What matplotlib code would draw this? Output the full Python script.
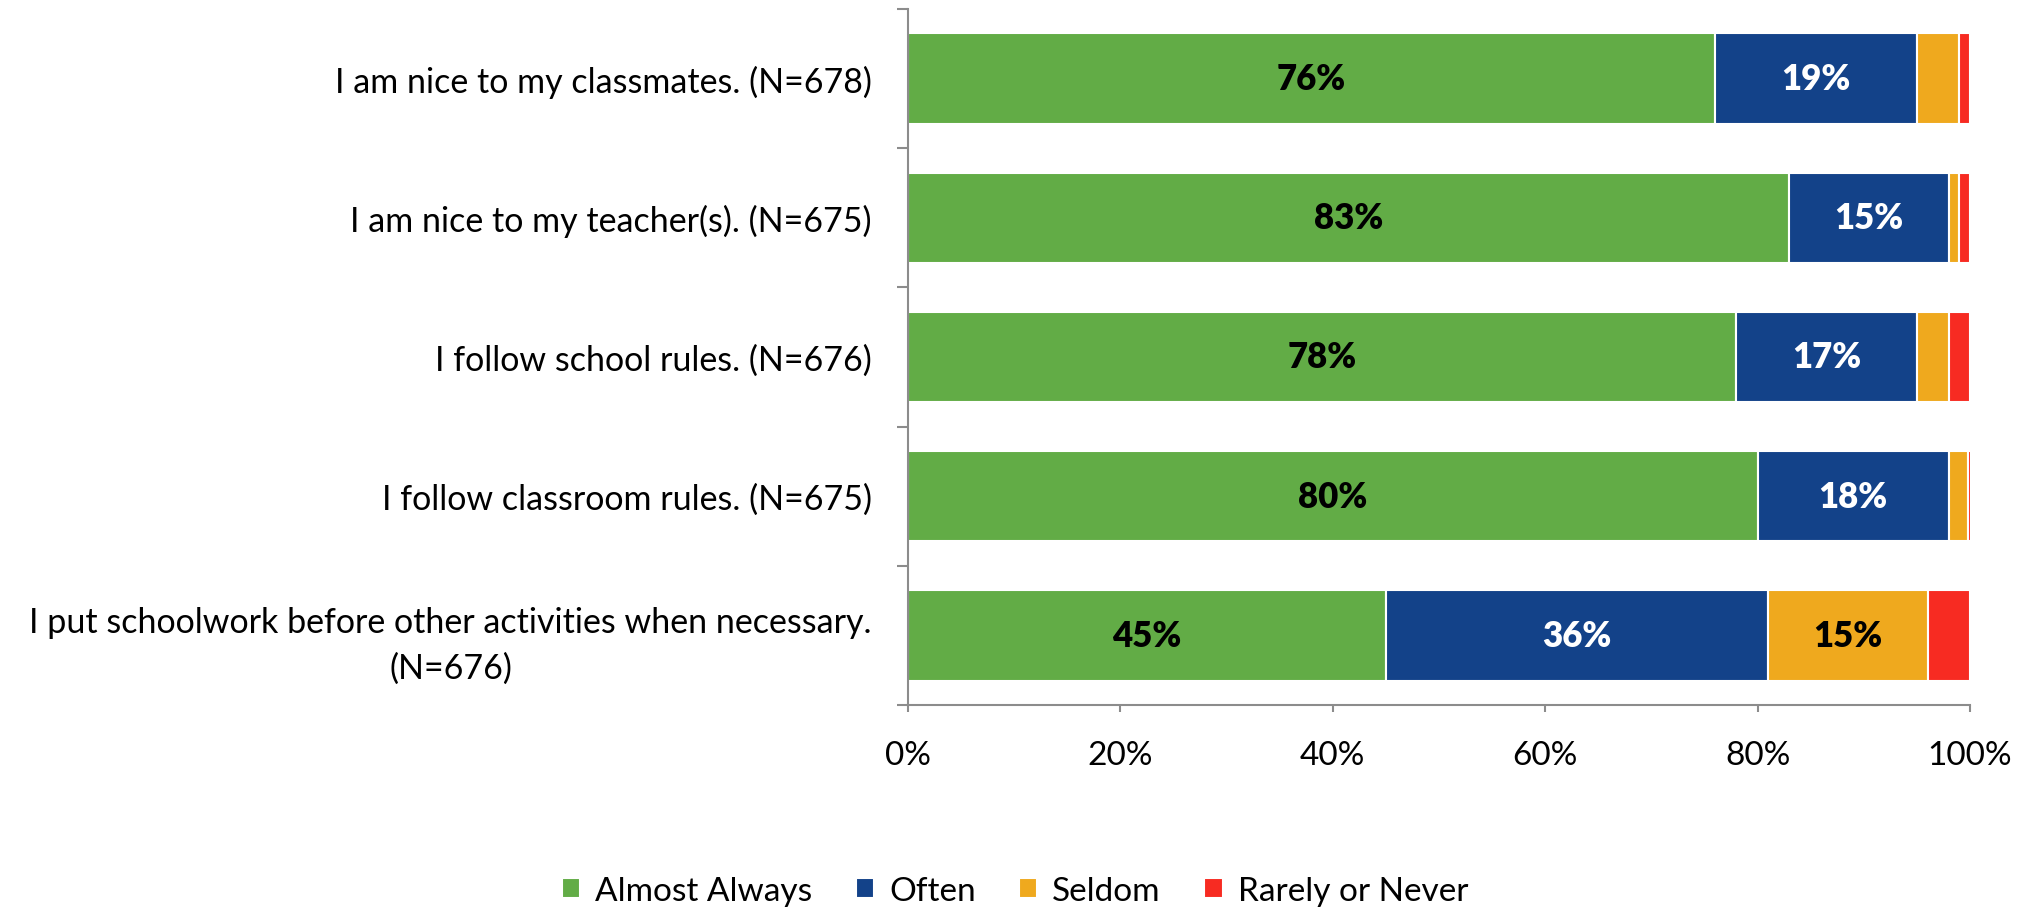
import matplotlib
matplotlib.use("Agg")
import matplotlib.pyplot as plt
import numpy as np
from matplotlib.ticker import FixedLocator, PercentFormatter

categories = [
    "I am nice to my classmates. (N=678)",
    "I am nice to my teacher(s). (N=675)",
    "I follow school rules. (N=676)",
    "I follow classroom rules. (N=675)",
    "I put schoolwork before other activities when necessary.\n(N=676)",
]
series_names = ["Almost Always", "Often", "Seldom", "Rarely or Never"]
almost_always = [76, 83, 78, 80, 45]
often = [19, 15, 17, 18, 36]
seldom = [4, 1, 3, 1.8, 15]
rarely = [1, 1, 2, 0.3, 4]
colors = ["#62AC46", "#134289", "#EFA91E", "#F72B22"]
label_colors = ["black", "white", "black", "white"]

plt.rcParams['font.family'] = ['Lato', 'DejaVu Sans']

fig = plt.figure(figsize=(20.30, 9.12), dpi=100)
ax = fig.add_axes([908/2030, (912-706)/912, 1062/2030, 696/912])

y = np.arange(len(categories))
left = np.zeros(len(categories))
all_series = [almost_always, often, seldom, rarely]
for vals, name, col, lc in zip(all_series, series_names, colors, label_colors):
    vals = np.array(vals, dtype=float)
    ax.barh(y, vals, left=left, height=0.65, color=col,
            edgecolor='white', linewidth=1.5, label=name)
    for yi, v, l in zip(y, vals, left):
        if v >= 10:
            ax.text(l + v / 2, yi, f"{v:.0f}%", ha='center', va='center',
                    color=lc, fontsize=25, fontweight='heavy')
    left += vals

ax.set_xlim(0, 100)
ax.set_ylim(len(categories) - 0.5, -0.5)
ax.xaxis.set_major_locator(FixedLocator([0, 20, 40, 60, 80, 100]))
ax.xaxis.set_major_formatter(PercentFormatter(decimals=0))
ax.set_yticks(y)
ax.set_yticklabels(categories)
for lab in ax.get_yticklabels():
    lab.set_multialignment('center')
    lab.set_linespacing(1.5)
ax.yaxis.set_minor_locator(FixedLocator(np.arange(-0.5, len(categories), 1.0)))

ax.tick_params(axis='y', which='major', length=0, pad=26, labelsize=24.5)
ax.tick_params(axis='y', which='minor', length=8, width=1.5, color='#8C8C8C', direction='out')
ax.tick_params(axis='x', which='major', length=5, width=1.5, color='#8C8C8C', direction='out',
               pad=20, labelsize=24)

for s in ['top', 'right']:
    ax.spines[s].set_visible(False)
for s in ['left', 'bottom']:
    ax.spines[s].set_color('#8C8C8C')
    ax.spines[s].set_linewidth(1.5)

fig.legend(loc='center', bbox_to_anchor=(0.5, 0.022), ncol=4, frameon=False,
           fontsize=24, handlelength=0.55, handleheight=0.55, handletextpad=0.45,
           columnspacing=1.3)

fig.savefig("out.png", dpi=100)
